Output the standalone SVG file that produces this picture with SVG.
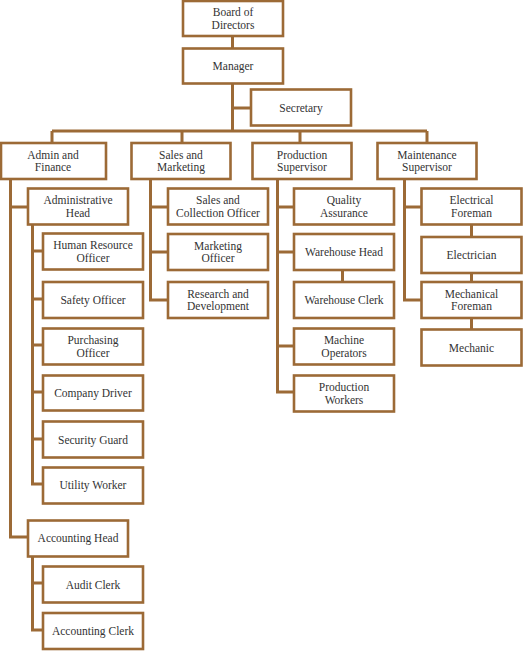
<svg xmlns="http://www.w3.org/2000/svg" width="526" height="654" viewBox="0 0 526 654">
<style>
.b{fill:#fff;stroke:#9C6A36;stroke-width:2.6}
.c{fill:none;stroke:#9C6A36;stroke-width:3}
text{font-family:"Liberation Serif","DejaVu Serif",serif;font-size:11.5px;fill:#333;text-anchor:middle}
</style>
<rect width="526" height="654" fill="#fff"/>
<g id="connectors">
<path class="c" d="M232.5 36V48M232.5 84V131M232.5 108H251M52 131H427M52 131V143M182 131V143M300 131V143M427 131V143"/>
<path class="c" d="M10.5 179V537H28M10.5 207H28M32.5 225V484H43M32.5 251H43M32.5 299H43M32.5 345H43M32.5 392H43M32.5 439H43M32.5 557V630H43M32.5 583H43"/>
<path class="c" d="M150.5 179V300H168M150.5 207H168M150.5 252H168"/>
<path class="c" d="M277.5 179V392H294M277.5 207H294M277.5 252H294M277.5 346H294M342.5 270V282"/>
<path class="c" d="M404.5 179V300H422M404.5 207H422M471.5 225V237M471.5 273V282M471.5 318V329"/>
</g>
<g id="n-board"><rect class="b" x="183" y="1" width="100" height="35"/><text x="233" y="16">Board of</text><text x="233" y="28.5">Directors</text></g>
<g id="n-manager"><rect class="b" x="183" y="48.5" width="100" height="35"/><text x="233" y="70">Manager</text></g>
<g id="n-secretary"><rect class="b" x="251" y="89.5" width="100" height="36"/><text x="301" y="111.5">Secretary</text></g>
<g id="n-admin"><rect class="b" x="1" y="143" width="105" height="36"/><text x="53" y="158.5">Admin and</text><text x="53" y="171">Finance</text></g>
<g id="n-sales"><rect class="b" x="131.5" y="143" width="99" height="36"/><text x="181" y="158.5">Sales and</text><text x="181" y="171">Marketing</text></g>
<g id="n-production"><rect class="b" x="252.5" y="143" width="99" height="36"/><text x="302" y="158.5">Production</text><text x="302" y="171">Supervisor</text></g>
<g id="n-maintenance"><rect class="b" x="377.5" y="143" width="99" height="36"/><text x="427" y="158.5">Maintenance</text><text x="427" y="171">Supervisor</text></g>
<g id="n-adminhead"><rect class="b" x="28" y="188.5" width="100" height="36"/><text x="78" y="204">Administrative</text><text x="78" y="216.5">Head</text></g>
<g id="n-hr"><rect class="b" x="43" y="233.5" width="100" height="36"/><text x="93" y="249">Human Resource</text><text x="93" y="261.5">Officer</text></g>
<g id="n-safety"><rect class="b" x="43" y="282" width="100" height="36"/><text x="93" y="304">Safety Officer</text></g>
<g id="n-purchasing"><rect class="b" x="43" y="328.5" width="100" height="36"/><text x="93" y="344">Purchasing</text><text x="93" y="356.5">Officer</text></g>
<g id="n-driver"><rect class="b" x="43" y="375.5" width="100" height="35"/><text x="93" y="397">Company Driver</text></g>
<g id="n-security"><rect class="b" x="43" y="421.5" width="100" height="36"/><text x="93" y="443.5">Security Guard</text></g>
<g id="n-utility"><rect class="b" x="43" y="467.5" width="100" height="36"/><text x="93" y="489">Utility Worker</text></g>
<g id="n-accthead"><rect class="b" x="28" y="520.5" width="100" height="36"/><text x="78" y="542">Accounting Head</text></g>
<g id="n-audit"><rect class="b" x="43" y="566.5" width="100" height="36"/><text x="93" y="588.5">Audit Clerk</text></g>
<g id="n-acctclerk"><rect class="b" x="43" y="613" width="100" height="36"/><text x="93" y="635">Accounting Clerk</text></g>
<g id="n-salescoll"><rect class="b" x="168" y="188.5" width="100" height="36"/><text x="218" y="204">Sales and</text><text x="218" y="216.5">Collection Officer</text></g>
<g id="n-mktofficer"><rect class="b" x="168" y="234" width="100" height="36"/><text x="218" y="249.5">Marketing</text><text x="218" y="262">Officer</text></g>
<g id="n-rnd"><rect class="b" x="168" y="282" width="100" height="36"/><text x="218" y="297.5">Research and</text><text x="218" y="310">Development</text></g>
<g id="n-quality"><rect class="b" x="294" y="188.5" width="100" height="36"/><text x="344" y="204">Quality</text><text x="344" y="216.5">Assurance</text></g>
<g id="n-whhead"><rect class="b" x="294" y="234" width="100" height="36"/><text x="344" y="256">Warehouse Head</text></g>
<g id="n-whclerk"><rect class="b" x="294" y="282" width="100" height="36"/><text x="344" y="304">Warehouse Clerk</text></g>
<g id="n-machine"><rect class="b" x="294" y="328.5" width="100" height="36"/><text x="344" y="344">Machine</text><text x="344" y="356.5">Operators</text></g>
<g id="n-prodworkers"><rect class="b" x="294" y="375.5" width="100" height="36"/><text x="344" y="391">Production</text><text x="344" y="403.5">Workers</text></g>
<g id="n-elecforeman"><rect class="b" x="421.5" y="188.5" width="100" height="36"/><text x="471.5" y="204">Electrical</text><text x="471.5" y="216.5">Foreman</text></g>
<g id="n-electrician"><rect class="b" x="421.5" y="237" width="100" height="36"/><text x="471.5" y="259">Electrician</text></g>
<g id="n-mechforeman"><rect class="b" x="421.5" y="282" width="100" height="36"/><text x="471.5" y="297.5">Mechanical</text><text x="471.5" y="310">Foreman</text></g>
<g id="n-mechanic"><rect class="b" x="421.5" y="329.5" width="100" height="36"/><text x="471.5" y="351.5">Mechanic</text></g>
</svg>
